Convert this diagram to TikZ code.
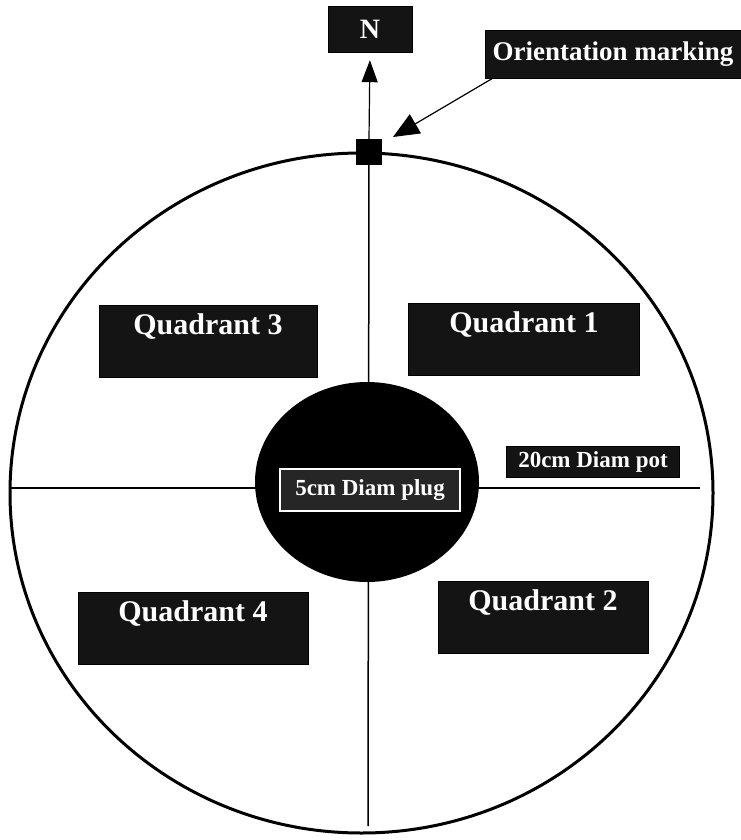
\documentclass[tikz,border=0pt]{standalone}
\usepackage{fontspec}
\setmainfont{Liberation Serif}
\usetikzlibrary{arrows.meta,shapes.geometric}
\tikzset{
  lab/.style={draw=black, fill=black!92, text=white, font=\bfseries\fontsize{30}{32}\selectfont, inner sep=0pt, minimum width=#1, align=center},
  qbox/.style={lab=#1, minimum height=72pt, text height=23pt, text depth=36pt},
  rim/.style={line width=3pt},
  cross/.style={line width=1.5pt},
  pointer/.style={line width=1.2pt, -{Triangle[length=22pt,width=16pt]}},
}
\begin{document}
\begin{tikzpicture}[x=1pt,y=-1pt]
\useasboundingbox (0,0) rectangle (741,840);
% outer pot
\draw[rim] (361.5,493) ellipse [x radius=351.5, y radius=340];
% cross lines
\coordinate (vb) at (368,826);
\coordinate (hl) at (10,488);
\coordinate (hr) at (700,488);
\node[fill=black, minimum size=26pt, inner sep=0pt] (sq) at (369,152) {};
\draw[cross] (sq.center) -- (vb);
\draw[cross] (hl) -- (hr);
% plug
\node[fill=black, ellipse, minimum width=224pt, minimum height=200pt, inner sep=0pt] (plug) at (367,482) {};
\node[draw=white, line width=2pt, fill=black!85, text=white, font=\bfseries\fontsize{23}{25}\selectfont, minimum width=180pt, minimum height=42pt, inner sep=0pt] (plugl) at (370,490) {5cm Diam plug};
% labels
\node[lab=84pt, minimum height=46pt, font=\bfseries\fontsize{28}{30}\selectfont] (N) at (370,29) {N};
\node[lab=256pt, minimum height=48pt, font=\bfseries\fontsize{27}{29}\selectfont] (orient) at (613,54) {Orientation marking};
\node[lab=173pt, minimum height=31pt, font=\bfseries\fontsize{23}{25}\selectfont] (pot) at (593,462) {20cm Diam pot};
\node[qbox=218pt] (q3) at (208,341) {Quadrant 3};
\node[qbox=231pt] (q1) at (524,339) {Quadrant 1};
\node[qbox=230pt] (q4) at (193,628) {Quadrant 4};
\node[qbox=210pt] (q2) at (543,617) {Quadrant 2};
% arrows
\draw[pointer, shorten >=8pt] (sq.north) -- (N.south);
\coordinate (om) at (393,137);
\draw[pointer, -{Triangle[length=26pt,width=22pt]}] (orient.south west) ++(8,0) coordinate (os) (os) -- (om);
\end{tikzpicture}
\end{document}
